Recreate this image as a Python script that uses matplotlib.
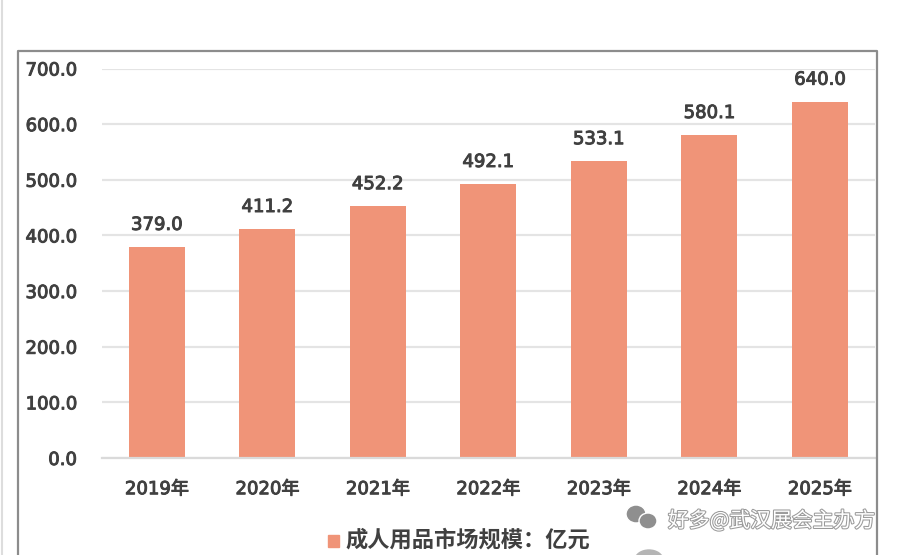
import matplotlib
matplotlib.use('Agg')
import matplotlib.pyplot as plt
import matplotlib.patheffects as pe
from matplotlib.lines import Line2D
from matplotlib.patches import Ellipse, Rectangle

plt.rcParams['font.family'] = ['DejaVu Sans', 'Noto Sans CJK SC']

years = ['2019年', '2020年', '2021年', '2022年', '2023年', '2024年', '2025年']
market_size = [379.0, 411.2, 452.2, 492.1, 533.1, 580.1, 640.0]
y_ticks = [0, 100, 200, 300, 400, 500, 600, 700]
legend_label = '成人用品市场规模：亿元'

W, H = 897, 555
TEXT = '#404040'
faux_bold = [pe.withStroke(linewidth=0.7, foreground=TEXT)]

fig = plt.figure(figsize=(W / 100, H / 100), dpi=100)
ax = fig.add_axes([101.5 / W, 1 - 458 / H, 773.5 / W, (458 - 68.5) / H])

bars = ax.bar(years, market_size, width=0.507, color='#F09478')
ax.set_xlim(-0.5, 6.5)
ax.set_ylim(0, 700)
ax.set_yticks(y_ticks)
ax.set_yticklabels(['%.1f' % v for v in y_ticks])
ax.grid(axis='y', color='#E4E4E4', linewidth=1.6)
ax.set_axisbelow(True)
for side in ['top', 'right', 'left']:
    ax.spines[side].set_visible(False)
ax.spines['bottom'].set_color('#DADADA')
ax.spines['bottom'].set_linewidth(1.6)
ax.tick_params(length=0, labelsize=13, labelcolor=TEXT)
ax.tick_params(axis='y', pad=18)
ax.tick_params(axis='x', pad=16)
for lab in ax.get_xticklabels() + ax.get_yticklabels():
    lab.set_path_effects(faux_bold)

for rect, v in zip(bars, market_size):
    ax.annotate('%.1f' % v, (rect.get_x() + rect.get_width() / 2, v),
                xytext=(0, 9.5), textcoords='offset points', ha='center', va='bottom',
                fontsize=13, color=TEXT, path_effects=faux_bold)

# outer chart frame, runs off the bottom of the screenshot
fig.add_artist(Line2D([18 / W, 18 / W, 877 / W, 877 / W], [0, 1 - 51 / H, 1 - 51 / H, 0],
                      color='#8C8C8C', linewidth=1.6))
fig.add_artist(Line2D([2 / W, 2 / W], [0, 1], color='#DDDDDD', linewidth=1.5))

# legend
fig.add_artist(Rectangle((328 / W, 1 - 547 / H), 11 / W, 12 / H, color='#F09478',
                         transform=fig.transFigure))
fig.text(345 / W, 1 - 540 / H, legend_label, fontsize=16, fontweight='bold', color=TEXT,
         family=['Noto Sans CJK SC', 'DejaVu Sans'], ha='left', va='center')

# watermark
for x, y, rx, ry in [(636, 514, 10, 9), (648, 521, 9, 8)]:
    fig.add_artist(Ellipse((x / W, 1 - y / H), 2 * rx / W, 2 * ry / H, color='#8F8F8F',
                           ec='white', transform=fig.transFigure))
fig.add_artist(Ellipse((649 / W, 1 - 560 / H), 28 / W, 20 / H, color='#B5B5B5',
                       transform=fig.transFigure))
outline = [pe.withStroke(linewidth=1.5, foreground='#9A9A9A')]
fig.text(668 / W, 1 - 521 / H, '好多@武汉展会主办方', fontsize=15, color='white', ha='left',
         va='center', family=['Noto Sans CJK SC', 'DejaVu Sans'], path_effects=outline)

fig.savefig('out.png', dpi=100)
